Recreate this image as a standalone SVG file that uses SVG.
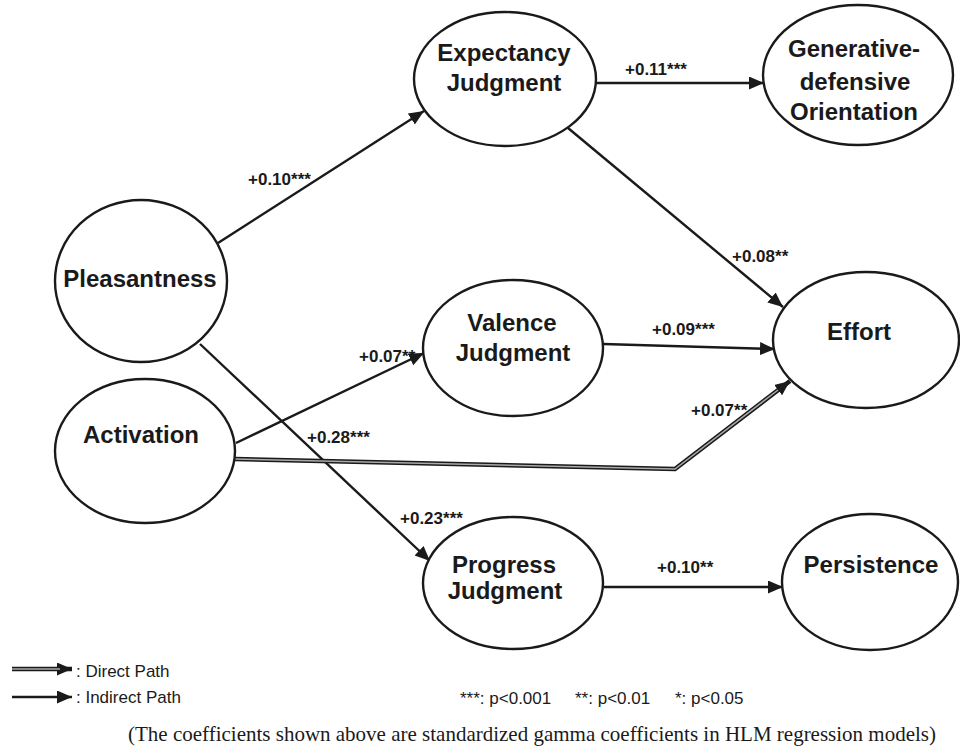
<svg xmlns="http://www.w3.org/2000/svg" width="960" height="749" viewBox="0 0 960 749">
<style>
.node ellipse{fill:#fff;stroke:#1a1a1a;stroke-width:2.4}
.nt{font-family:"Liberation Sans",Arial,sans-serif;font-weight:bold;font-size:24px;fill:#1a1a1a;text-anchor:middle}
.lbl{font-family:"Liberation Sans",Arial,sans-serif;font-weight:bold;font-size:17px;fill:#1a1a1a}
.ind{fill:none;stroke:#1a1a1a;stroke-width:2.4}
.dirO{fill:none;stroke:#1a1a1a;stroke-width:4.5}
.dirI{fill:none;stroke:#aaa;stroke-width:1.5}
.leg{font-family:"Liberation Sans",Arial,sans-serif;font-size:17px;fill:#1a1a1a}
.foot{font-family:"Liberation Serif","Times New Roman",serif;font-size:21px;fill:#1a1a1a}
</style>
<defs>
<marker id="ah" markerUnits="userSpaceOnUse" markerWidth="16" markerHeight="14" refX="15" refY="6.5" orient="auto">
<path d="M0,0 L15,6.5 L0,13 z" fill="#1a1a1a"/>
</marker>
</defs>
<rect width="960" height="749" fill="#fff"/>
<g id="connectors">
<path class="ind" d="M218,243 L424,111" marker-end="url(#ah)"/>
<path class="ind" d="M595,83 L764,83" marker-end="url(#ah)"/>
<path class="ind" d="M568,128 L783,307" marker-end="url(#ah)"/>
<path class="ind" d="M603,344 L775,349" marker-end="url(#ah)"/>
<path class="ind" d="M236,443 L424,353" marker-end="url(#ah)"/>
<path class="ind" d="M200,344 L430,561" marker-end="url(#ah)"/>
<path class="ind" d="M604,587 L783,587" marker-end="url(#ah)"/>
<path class="dirO" d="M235,459 L675,469 L790,381" marker-end="url(#ah)"/>
<path class="dirI" d="M235,459 L675,469 L778,390"/>
<text class="lbl" x="248" y="185">+0.10***</text>
<text class="lbl" x="625" y="75">+0.11***</text>
<text class="lbl" x="732" y="262">+0.08**</text>
<text class="lbl" x="652" y="335">+0.09***</text>
<text class="lbl" x="359" y="362">+0.07**</text>
<text class="lbl" x="307" y="443">+0.28***</text>
<text class="lbl" x="691" y="416">+0.07**</text>
<text class="lbl" x="400" y="524">+0.23***</text>
<text class="lbl" x="657" y="573">+0.10**</text>
</g>
<g id="expectancy" class="node">
<ellipse cx="505" cy="79" rx="91" ry="67"/>
<text class="nt" x="504" y="61">Expectancy</text>
<text class="nt" x="504" y="91">Judgment</text>
</g>
<g id="generative" class="node">
<ellipse cx="858" cy="75" rx="95" ry="70"/>
<text class="nt" x="854" y="57">Generative-</text>
<text class="nt" x="855" y="90">defensive</text>
<text class="nt" x="854" y="120">Orientation</text>
</g>
<g id="pleasantness" class="node">
<ellipse cx="141" cy="281" rx="86" ry="81"/>
<text class="nt" x="140" y="287">Pleasantness</text>
</g>
<g id="activation" class="node">
<ellipse cx="145" cy="451" rx="90" ry="72"/>
<text class="nt" x="141" y="443">Activation</text>
</g>
<g id="valence" class="node">
<ellipse cx="513" cy="348" rx="90" ry="68"/>
<text class="nt" x="512" y="331">Valence</text>
<text class="nt" x="513" y="361">Judgment</text>
</g>
<g id="effort" class="node">
<ellipse cx="866" cy="340" rx="93" ry="68"/>
<text class="nt" x="859" y="340">Effort</text>
</g>
<g id="progress" class="node">
<ellipse cx="513" cy="583" rx="90" ry="66"/>
<text class="nt" x="504" y="573">Progress</text>
<text class="nt" x="505" y="599">Judgment</text>
</g>
<g id="persistence" class="node">
<ellipse cx="870" cy="582" rx="88" ry="68"/>
<text class="nt" x="871" y="573">Persistence</text>
</g>
<g id="legend">
<path class="dirO" d="M12,669 L72,669" marker-end="url(#ah)"/>
<path class="dirI" d="M12,669 L60,669"/>
<path class="ind" d="M12,697 L72,697" marker-end="url(#ah)"/>
<text class="leg" x="76" y="677">: Direct Path</text>
<text class="leg" x="76" y="703">: Indirect Path</text>
<text class="leg" x="460" y="704">***: p&lt;0.001</text>
<text class="leg" x="575" y="704">**: p&lt;0.01</text>
<text class="leg" x="675" y="704">*: p&lt;0.05</text>
<text class="foot" x="128" y="741">(The coefficients shown above are standardized gamma coefficients in HLM regression models)</text>
</g>
</svg>
